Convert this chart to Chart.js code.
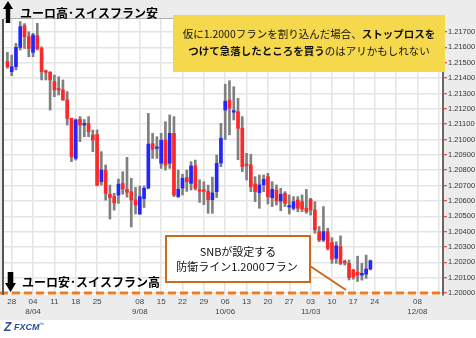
<!DOCTYPE html>
<html>
<head>
<meta charset="utf-8">
<script src="https://cdn.jsdelivr.net/npm/chart.js@4.4.0/dist/chart.umd.min.js"></script>
<style>
html, body { margin: 0; padding: 0; background: #fff; }
#wrap { width: 476px; height: 338px; }
</style>
</head>
<body>
<div id="wrap"><canvas id="chart" width="476" height="338"></canvas></div>
<script>
// EUR/CHF daily, 2014/07/25 - 2014/11/21 (index 0 = 07/25)
var opens = [1.21507,1.21442,1.21474,1.21600,1.21741,1.21670,1.21568,1.21676,1.21593,1.21442,
  1.21438,1.21377,1.21325,1.21323,1.21258,1.21138,1.20877,1.21131,1.21094,1.21105,
  1.21029,1.21032,1.20725,1.20801,1.20643,1.20628,1.20638,1.20714,1.20675,1.20660,
  1.20606,1.20515,1.20615,1.20684,1.20973,1.20942,1.20845,1.20997,1.20845,1.21040,
  1.20628,1.20684,1.20752,1.20714,1.20828,1.20673,1.20673,1.20662,1.20608,1.20660,
  1.20847,1.21192,1.21257,1.21178,1.21181,1.21073,1.20834,1.20834,1.20710,1.20654,
  1.20704,1.20758,1.20621,1.20671,1.20599,1.20649,1.20560,1.20552,1.20606,1.20595,
  1.20552,1.20610,1.20541,1.20400,1.20345,1.20400,1.20328,1.20226,1.20302,1.20198,
  1.20193,1.20148,1.20135,1.20117,1.20123,1.20156];
var highs = [1.21568,1.21550,1.21626,1.21768,1.21755,1.21702,1.21692,1.21757,1.21604,1.21453,
  1.21442,1.21420,1.21409,1.21388,1.21312,1.21140,1.21134,1.21149,1.21130,1.21149,
  1.21062,1.21062,1.20921,1.20834,1.20703,1.20650,1.20742,1.20790,1.20884,1.20747,
  1.20688,1.20697,1.20697,1.21170,1.21040,1.21018,1.21040,1.21116,1.21160,1.21149,
  1.20801,1.20774,1.20801,1.20856,1.20866,1.20738,1.20725,1.20703,1.20755,1.20899,
  1.21105,1.21360,1.21383,1.21344,1.21268,1.21149,1.20910,1.20903,1.20758,1.20769,
  1.20769,1.20780,1.20725,1.20704,1.20682,1.20660,1.20639,1.20628,1.20628,1.20639,
  1.20675,1.20617,1.20595,1.20433,1.20563,1.20422,1.20360,1.20334,1.20372,1.20215,
  1.20215,1.20155,1.20240,1.20193,1.20247,1.20215];
var lows = [1.21464,1.21416,1.21453,1.21583,1.21593,1.21539,1.21539,1.21583,1.21388,1.21388,
  1.21192,1.21279,1.21290,1.21255,1.21094,1.20856,1.20866,1.20986,1.21018,1.21018,
  1.20921,1.20698,1.20703,1.20605,1.20482,1.20540,1.20584,1.20644,1.20624,1.20430,
  1.20515,1.20512,1.20557,1.20678,1.20877,1.20877,1.20812,1.20801,1.20812,1.20628,
  1.20622,1.20638,1.20662,1.20671,1.20671,1.20590,1.20576,1.20519,1.20519,1.20622,
  1.20823,1.21000,1.21030,1.21127,1.20868,1.20791,1.20736,1.20660,1.20595,1.20552,
  1.20660,1.20580,1.20563,1.20573,1.20536,1.20563,1.20515,1.20541,1.20530,1.20530,
  1.20519,1.20508,1.20389,1.20335,1.20335,1.20280,1.20193,1.20193,1.20185,1.20182,
  1.20085,1.20090,1.20075,1.20084,1.20095,1.20150];
var closes = [1.21474,1.21474,1.21600,1.21735,1.21670,1.21593,1.21681,1.21593,1.21442,1.21438,
  1.21388,1.21323,1.21323,1.21258,1.21138,1.20888,1.21127,1.21094,1.21105,1.21051,
  1.20997,1.20703,1.20801,1.20649,1.20621,1.20587,1.20709,1.20678,1.20656,1.20606,
  1.20573,1.20628,1.20682,1.20970,1.20937,1.20950,1.20995,1.20834,1.21040,1.20638,
  1.20676,1.20747,1.20725,1.20828,1.20682,1.20663,1.20662,1.20608,1.20652,1.20845,
  1.21008,1.21249,1.21203,1.21182,1.21073,1.20823,1.20830,1.20693,1.20660,1.20704,
  1.20741,1.20628,1.20675,1.20599,1.20643,1.20584,1.20565,1.20595,1.20552,1.20547,
  1.20530,1.20541,1.20411,1.20345,1.20400,1.20291,1.20220,1.20307,1.20193,1.20196,
  1.20100,1.20106,1.20117,1.20128,1.20156,1.20210];

// weekly ticks (Monday index) and their labels
var weekTicks = [1,6,11,16,21,26,31,36,41,46,51,56,61,66,71,76,81,86,91,96,101];
var weekLabels = ['28','04','11','18','25','','08','15','22','29','06','13','20','27','03','10','17','24','','08',''];
var monthLabels = ['','8/04','','','','','9/08','','','','10/06','','','','11/03','','','','','12/08',''];
var yTicks = [1.200,1.201,1.202,1.203,1.204,1.205,1.206,1.207,1.208,1.209,1.210,1.211,1.212,1.213,1.214,1.215,1.216,1.217];
var defenseLine = 1.2000;

var wicks = [], bodies = [], bodyColors = [];
for (var i = 0; i < opens.length; i++) {
    wicks.push({x: i, y: [lows[i], highs[i]]});
    bodies.push({x: i, y: [opens[i], closes[i]]});
    bodyColors.push(closes[i] >= opens[i] ? '#2424ff' : '#ff2828');
}

var JP = '"Noto Sans CJK JP"';

function drawRuns(c, runs, cx, y, size) {
    var total = 0;
    runs.forEach(function(r) {
        c.font = (r.b ? 'bold ' : '') + size + 'px ' + JP;
        r.w = c.measureText(r.t).width;
        total += r.w;
    });
    var x = cx - total / 2;
    runs.forEach(function(r) {
        c.font = (r.b ? 'bold ' : '') + size + 'px ' + JP;
        c.fillText(r.t, x, y);
        x += r.w;
    });
}

var frame = {
    id: 'frame',
    beforeDraw: function(chart) {
        var c = chart.ctx, a = chart.chartArea;
        c.save();
        c.fillStyle = '#ffffff';
        c.fillRect(0, 0, chart.width, chart.height);
        c.fillStyle = '#ececec';
        c.fillRect(0, 0, chart.width, a.bottom + 25);
        c.fillStyle = '#ffffff';
        c.fillRect(a.left, a.top, a.right - a.left, a.bottom - a.top);
        c.restore();
    },
    afterDraw: function(chart) {
        var c = chart.ctx, a = chart.chartArea;
        c.save();
        // plot frame
        c.strokeStyle = '#b0b0b0';
        c.lineWidth = 1;
        c.beginPath(); c.moveTo(a.left, a.top - 0.5); c.lineTo(a.right, a.top - 0.5); c.stroke();
        c.strokeStyle = '#555';
        c.lineWidth = 2;
        c.beginPath(); c.moveTo(3, a.top); c.lineTo(3, a.bottom); c.stroke();

        // arrows
        c.fillStyle = '#000';
        c.beginPath();
        c.moveTo(8, 1); c.lineTo(13, 9); c.lineTo(10.2, 9); c.lineTo(10.2, 23);
        c.lineTo(5.8, 23); c.lineTo(5.8, 9); c.lineTo(3, 9); c.closePath(); c.fill();
        c.beginPath();
        c.moveTo(10.5, 292); c.lineTo(16, 283); c.lineTo(13.3, 283); c.lineTo(13.3, 272);
        c.lineTo(7.7, 272); c.lineTo(7.7, 283); c.lineTo(5, 283); c.closePath(); c.fill();

        // titles
        c.textBaseline = 'middle';
        c.textAlign = 'left';
        c.font = 'bold 12px ' + JP;
        c.fillText('ユーロ高･スイスフラン安', 20, 13);
        c.fillText('ユーロ安･スイスフラン高', 22, 282);

        // yellow note
        c.fillStyle = '#f6d84c';
        c.fillRect(173, 15, 272, 57);
        c.fillStyle = '#111';
        drawRuns(c, [{t: '仮に1.2000フランを割り込んだ場合、', b: false}, {t: 'ストップロスを', b: true}], 309, 34, 10.5);
        drawRuns(c, [{t: 'つけて急落したところを買う', b: true}, {t: 'のはアリかもしれない', b: false}], 309, 51, 10.5);

        // SNB note
        c.strokeStyle = '#cc6a1c';
        c.lineWidth = 2;
        c.beginPath(); c.moveTo(310, 266); c.lineTo(346, 290); c.stroke();
        c.fillStyle = '#ffffff';
        c.fillRect(166, 236, 144, 46);
        c.strokeRect(166, 236, 144, 46);
        c.fillStyle = '#111';
        drawRuns(c, [{t: 'SNBが設定する', b: false}], 238, 252, 11);
        drawRuns(c, [{t: '防衛ライン1.2000フラン', b: false}], 237, 267, 11);

        // logo
        c.fillStyle = '#2a4d9b';
        c.font = 'bold italic 12px "Liberation Sans"';
        c.fillText('Z', 4, 328);
        c.font = 'bold italic 9px "Liberation Sans"';
        c.fillText('FXCM', 14, 328);
        c.font = '5px "Liberation Sans"';
        c.fillText('™', 39, 325);
        c.restore();
    }
};

new Chart(document.getElementById('chart'), {
    type: 'bar',
    data: {
        datasets: [{
            type: 'line',
            data: [{x: -1.75, y: defenseLine}, {x: 102, y: defenseLine}],
            borderColor: '#f47b20',
            borderWidth: 3,
            borderDash: [8, 4],
            pointRadius: 0,
            clip: false,
            order: 0
        }, {
            data: bodies,
            backgroundColor: bodyColors,
            barThickness: 3,
            minBarLength: 1.5,
            grouped: false,
            order: 1
        }, {
            data: wicks,
            backgroundColor: '#808080',
            barThickness: 2,
            grouped: false,
            order: 2
        }]
    },
    options: {
        responsive: false,
        animation: false,
        layout: { padding: { left: 4, top: 19, right: 0, bottom: 18 } },
        plugins: { legend: { display: false }, tooltip: { enabled: false } },
        scales: {
            x: {
                type: 'linear',
                offset: false,
                min: -0.8,
                max: 102,
                afterBuildTicks: function(scale) {
                    scale.ticks = weekTicks.map(function(v) { return {value: v}; });
                },
                afterFit: function(scale) { scale.height = 25; },
                ticks: {
                    autoSkip: false,
                    maxRotation: 0,
                    padding: 2,
                    color: '#444',
                    font: { family: 'Liberation Sans', size: 8 },
                    callback: function(value) {
                        var k = weekTicks.indexOf(value);
                        return [weekLabels[k], monthLabels[k]];
                    }
                },
                grid: { color: '#e4e4e4', lineWidth: 1.5, drawTicks: false, offset: false },
                border: { display: false }
            },
            y: {
                position: 'right',
                min: 1.19987,
                max: 1.21785,
                afterBuildTicks: function(scale) {
                    scale.ticks = yTicks.map(function(v) { return {value: v}; });
                },
                afterFit: function(scale) { scale.width = 33; },
                ticks: {
                    padding: 1,
                    color: '#333',
                    font: { family: 'Liberation Sans', size: 7.5 },
                    callback: function(value) { return value.toFixed(5); }
                },
                grid: { color: '#e4e4e4', lineWidth: 1.5, tickColor: '#e02020', tickLength: 4, tickWidth: 1 },
                border: { color: '#666', width: 2 }
            }
        }
    },
    plugins: [frame]
});
</script>
</body>
</html>
